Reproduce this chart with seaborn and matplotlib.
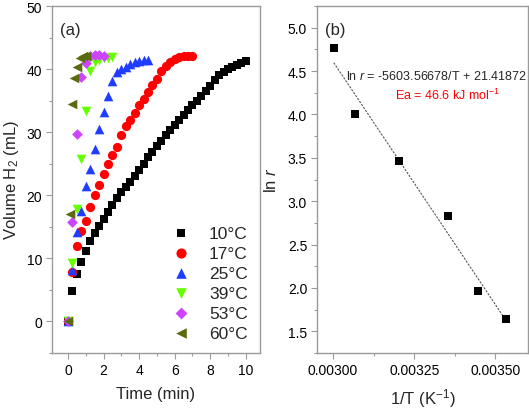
import matplotlib
matplotlib.use("Agg")
import matplotlib.pyplot as plt
from matplotlib.ticker import MultipleLocator
import numpy as np
import pandas as pd
import seaborn as sns

# (a) hydrogen volume vs time at six temperatures
t_10 = [0, 0.25, 0.5, 0.75, 1.0, 1.25, 1.5, 1.75, 2.0, 2.25, 2.5, 2.75, 3.0, 3.25,
        3.5, 3.75, 4.0, 4.25, 4.5, 4.75, 5.0, 5.25, 5.5, 5.75, 6.0, 6.25, 6.5, 6.75,
        7.0, 7.25, 7.5, 7.75, 8.0, 8.25, 8.5, 8.75, 9.0, 9.25, 9.5, 9.75, 10.0]
v_10 = [0, 4.9, 7.6, 9.5, 11.2, 12.7, 14.0, 15.2, 16.3, 17.3, 18.4, 19.5, 20.5, 21.3,
        22.1, 23.0, 24.0, 25.0, 26.0, 26.9, 27.8, 28.6, 29.5, 30.3, 31.1, 31.9, 32.7, 33.5,
        34.3, 35.0, 35.8, 36.6, 37.4, 38.2, 39.0, 39.5, 40.0, 40.4, 40.7, 41.0, 41.3]

t_17 = [0, 0.25, 0.5, 0.75, 1.0, 1.25, 1.5, 1.75, 2.0, 2.25, 2.5, 2.75, 3.0, 3.25,
        3.5, 3.75, 4.0, 4.25, 4.5, 4.75, 5.0, 5.25, 5.5, 5.75, 6.0, 6.25, 6.5, 6.75, 7.0]
v_17 = [0, 7.8, 11.9, 14.3, 15.9, 18.2, 20.0, 21.6, 23.4, 25.0, 26.4, 27.7, 29.6, 31.0,
        31.9, 33.0, 34.3, 35.2, 36.4, 37.5, 38.4, 39.7, 40.5, 41.1, 41.6, 41.9, 42.1, 42.1, 42.1]

t_25 = [0, 0.25, 0.5, 0.75, 1.0, 1.25, 1.5, 1.75, 2.0, 2.25, 2.5, 2.75, 3.0, 3.25,
        3.5, 3.75, 4.0, 4.25, 4.5]
v_25 = [0, 8.2, 14.1, 17.5, 21.5, 24.2, 27.4, 30.5, 33.2, 35.7, 38.1, 39.6, 40.0, 40.4,
        40.8, 41.1, 41.3, 41.5, 41.5]

t_39 = [0, 0.25, 0.5, 0.75, 1.0, 1.25, 1.5, 1.75, 2.0, 2.25, 2.5]
v_39 = [0, 9.3, 17.8, 25.7, 33.3, 39.7, 41.1, 41.4, 41.7, 41.8, 41.9]

t_53 = [0, 0.25, 0.5, 0.75, 1.0, 1.25, 1.5, 1.75, 2.0]
v_53 = [0, 15.7, 29.7, 38.7, 41.0, 42.0, 42.2, 42.2, 42.1]

t_60 = [0, 0.1, 0.2, 0.35, 0.5, 0.67, 0.83, 1.0]
v_60 = [0, 17.1, 34.4, 38.6, 40.3, 41.7, 42.0, 42.1]

labels = ["10°C", "17°C", "25°C", "39°C", "53°C", "60°C"]
colors = ["#000000", "#ff0000", "#1f3cff", "#66ff00", "#cc44ff", "#5a6b0f"]
markers = ["s", "o", "^", "v", "D", "<"]

# (b) Arrhenius plot
inv_T = [0.003002, 0.003066, 0.003204, 0.003354, 0.003446, 0.003532]
ln_r = [4.77, 4.00, 3.46, 2.83, 1.96, 1.64]
slope = -5603.56678
intercept = 21.41872

sns.set_theme(style="ticks")
plt.rcParams["font.family"] = ["Liberation Sans", "DejaVu Sans"]
plt.rcParams["mathtext.fontset"] = "custom"
plt.rcParams["mathtext.rm"] = "Liberation Sans"
plt.rcParams["mathtext.it"] = "Liberation Sans:italic"

fig = plt.figure(figsize=(5.29, 4.10), dpi=100)
ax1 = fig.add_axes([0.0983, 0.1366, 0.3932, 0.8463])
ax2 = fig.add_axes([0.599, 0.1366, 0.399, 0.8463])

series = [(t_10, v_10), (t_17, v_17), (t_25, v_25), (t_39, v_39), (t_53, v_53), (t_60, v_60)]
sizes = [34, 44, 48, 48, 30, 48]
for (t, v), lab, c, m, s in zip(series, labels, colors, markers, sizes):
    df = pd.DataFrame({"time": t, "volume": v})
    sns.scatterplot(data=df, x="time", y="volume", marker=m, color=c, s=s,
                    linewidth=0, label=lab, ax=ax1, zorder=3)

ax1.set_xlim(-0.9, 10.8)
ax1.set_ylim(-5, 50)
ax1.xaxis.set_major_locator(MultipleLocator(2))
ax1.xaxis.set_minor_locator(MultipleLocator(1))
ax1.yaxis.set_major_locator(MultipleLocator(10))
ax1.yaxis.set_minor_locator(MultipleLocator(5))
ax1.set_xlabel("Time (min)", fontsize=12, labelpad=7)
ax1.set_ylabel("Volume H$_2$ (mL)", fontsize=12, labelpad=4)
ax1.text(0.04, 0.955, "(a)", transform=ax1.transAxes, fontsize=12, va="top", ha="left")
leg = ax1.legend(loc="lower right", frameon=False, fontsize=12.5, labelspacing=0.28,
                 handletextpad=0.6, borderaxespad=0.3, markerscale=1.1,
                 bbox_to_anchor=(1.0, 0.0))

fit_df = pd.DataFrame({"x": [inv_T[0], inv_T[-1]]})
fit_df["y"] = slope * fit_df["x"] + intercept
sns.lineplot(data=fit_df, x="x", y="y", ax=ax2, color="#555555", lw=0.8,
             linestyle=(0, (2, 1.2)), zorder=2)
pts = pd.DataFrame({"inv_T": inv_T, "ln_r": ln_r})
sns.scatterplot(data=pts, x="inv_T", y="ln_r", marker="s", color="black", s=40,
                linewidth=0, ax=ax2, zorder=3)
ax2.set_xlim(0.00295, 0.0036)
ax2.set_ylim(1.25, 5.25)
ax2.xaxis.set_major_locator(MultipleLocator(0.00025))
ax2.xaxis.set_minor_locator(MultipleLocator(0.000125))
ax2.yaxis.set_major_locator(MultipleLocator(0.5))
ax2.yaxis.set_minor_locator(MultipleLocator(0.25))
ax2.xaxis.set_major_formatter(matplotlib.ticker.FormatStrFormatter("%.5f"))
ax2.yaxis.set_major_formatter(matplotlib.ticker.FormatStrFormatter("%.1f"))
ax2.set_xlabel("1/T (K$^{-1}$)", fontsize=12, labelpad=7)
ax2.set_ylabel("ln $\\mathit{r}$", fontsize=12, labelpad=6)
ax2.text(0.04, 0.955, "(b)", transform=ax2.transAxes, fontsize=12, va="top", ha="left")
ax2.text(0.995, 0.80, "ln $\\mathit{r}$ = -5603.56678/T + 21.41872", transform=ax2.transAxes,
         fontsize=9, ha="right", va="center")
ax2.text(0.62, 0.745, "Ea = 46.6 kJ mol$^{-1}$", transform=ax2.transAxes,
         fontsize=9, ha="center", va="center", color="red")

for ax in (ax1, ax2):
    for sp in ax.spines.values():
        sp.set_visible(True)
        sp.set_color("#9a9a9a")
        sp.set_linewidth(1.0)
    ax.tick_params(which="major", direction="out", length=4, width=0.8,
                   color="#9a9a9a", labelsize=10, labelcolor="black", pad=3)
    ax.tick_params(which="minor", direction="out", length=2.5, width=0.8, color="#9a9a9a")
    ax.tick_params(top=False, right=False, which="both")

fig.savefig("out.png", dpi=100)
